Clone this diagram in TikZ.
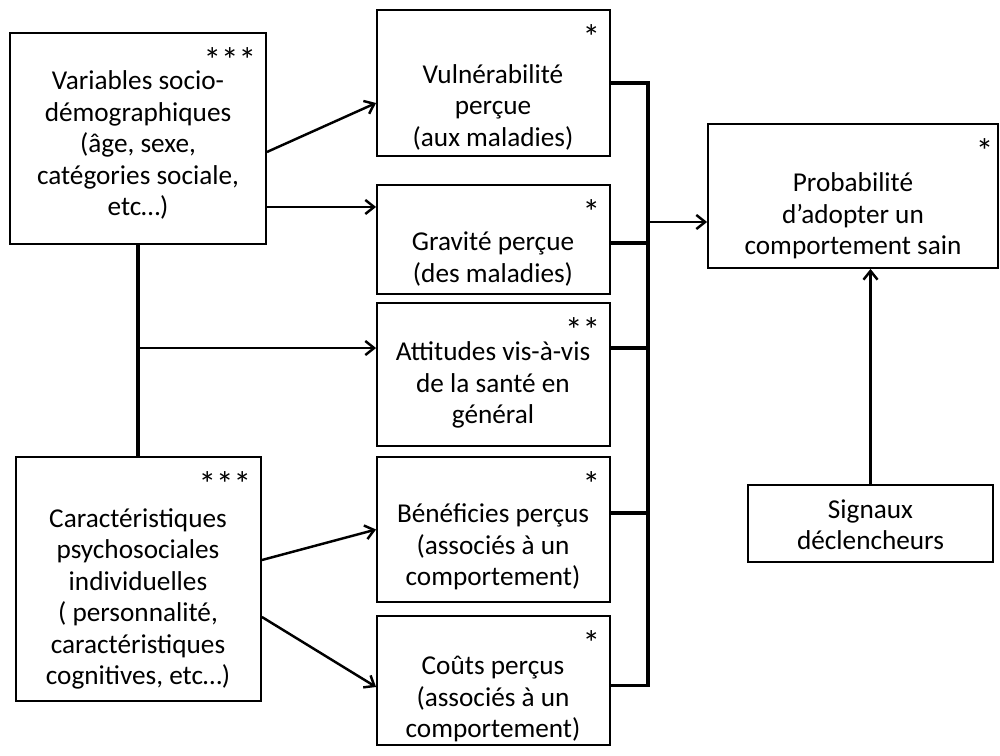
\documentclass[tikz,border=0pt]{standalone}
\usepackage{fontspec}
\setmainfont{Carlito}
\usetikzlibrary{arrows.meta, positioning, calc}

\begin{document}
\begin{tikzpicture}[x=0.02cm, y=-0.02cm,
        box/.style={draw, line width=1.1pt, inner sep=0pt},
        txt/.style={align=center, font=\fontsize{15.5}{17.9}\selectfont},
        stars/.style={anchor=north east, inner sep=0pt, font=\fontsize{20}{20}\selectfont},
        link/.style={line width=2pt},
        arr/.style={line width=1.4pt, -{Straight Barb[length=5pt, width=8pt]}}]
        \useasboundingbox (0,0) rectangle (1000,756);

        % left column
        \node[box, minimum width=5.12cm, minimum height=4.22cm] (var) at (138,138.5) {};
        \node[box, minimum width=4.9cm, minimum height=4.88cm] (car) at (138.5,579) {};
        \node[txt] (vartxt) at (138,145) {Variables socio-\\démographiques\\(âge, sexe,\\catégories sociale,\\etc…)};
        \node[txt] (cartxt) at (138,599) {Caractéristiques\\psychosociales\\individuelles\\( personnalité,\\caractéristiques\\cognitives, etc…)};
        \node[stars] at ([xshift=-6pt, yshift=-8.5pt]var.north east) {***};
        \node[stars] at ([xshift=-6pt, yshift=-8.5pt]car.north east) {***};

        % middle column
        \node[box, minimum width=4.66cm, minimum height=2.92cm] (vul) at (493.5,83) {};
        \node[box, minimum width=4.66cm, minimum height=2.18cm] (gra) at (493.5,239.5) {};
        \node[box, minimum width=4.66cm, minimum height=2.86cm] (att) at (493.5,374.5) {};
        \node[box, minimum width=4.66cm, minimum height=2.9cm] (ben) at (493.5,529.5) {};
        \node[box, minimum width=4.66cm, minimum height=2.58cm] (cou) at (493.5,680.5) {};
        \node[txt] (vultxt) at (493,107) {Vulnérabilité\\perçue\\(aux maladies)};
        \node[txt] (gratxt) at (493,259) {Gravité perçue\\(des maladies)};
        \node[txt] (atttxt) at (493,385) {Attitudes vis-à-vis\\de la santé en\\général};
        \node[txt] (bentxt) at (493,547) {Bénéficies perçus\\(associés à un\\comportement)};
        \node[txt] (coutxt) at (493,699) {Coûts perçus\\(associés à un\\comportement)};
        \node[stars] at ([xshift=-6pt, yshift=-8.5pt]vul.north east) {*};
        \node[stars] at ([xshift=-6pt, yshift=-8.5pt]gra.north east) {*};
        \node[stars] at ([xshift=-6pt, yshift=-8.5pt]att.north east) {**};
        \node[stars] at ([xshift=-6pt, yshift=-8.5pt]ben.north east) {*};
        \node[stars] at ([xshift=-6pt, yshift=-8.5pt]cou.north east) {*};

        % right column
        \node[box, minimum width=5.8cm, minimum height=2.88cm] (pro) at (853,196) {};
        \node[txt] (protxt) at (853,216) {Probabilité\\d’adopter un\\comportement sain};
        \node[stars] at ([xshift=-3pt, yshift=-8.5pt]pro.north east) {*};
        \node[box, minimum width=4.9cm, minimum height=1.54cm] (sig) at (870.5,523.5) {};
        \node[txt] (sigtxt) at (870.5,525) {Signaux\\déclencheurs};

        % left links
        \coordinate (vg) at ([yshift=-1.37cm]var.east);
        \coordinate (split) at (var.south |- att.west);
        \coordinate (sa) at ([yshift=0.53cm]split);
        \draw[arr] ([yshift=-0.27cm]var.east) -- ([yshift=-0.4cm]vul.west);
        \draw[arr] (vg) -- (vg -| gra.west);
        \draw[line width=2.2pt] (var.south) -- (var.south |- car.north);
        \draw[arr] (sa) -- (sa -| att.west);
        \draw[arr] ([yshift=0.38cm]car.east) -- (ben.west);
        \draw[arr] ([yshift=-0.76cm]car.east) -- ([yshift=-0.13cm]cou.west);

        % bus
        \coordinate (bustop) at ($(vul.east)+(37,0)$);
        \coordinate (busbot) at ($(cou.east)+(37,5)$);
        \coordinate (pin) at ([yshift=-0.52cm]pro.west);
        \draw[link] (vul.east) -- (bustop);
        \draw[link] ([yshift=-0.07cm]gra.east) -- ([yshift=-0.07cm]gra.east -| bustop);
        \draw[link] ([yshift=0.53cm]att.east) -- ([yshift=0.53cm]att.east -| bustop);
        \draw[link] ([yshift=0.33cm]ben.east) -- ([yshift=0.33cm]ben.east -| bustop);
        \draw[link] (cou.east |- busbot) -- (busbot);
        \draw[link, line cap=rect] (bustop) -- (busbot);
        \draw[arr] (pin -| bustop) -- (pin);

        \draw[arr] (sig.north) -- (sig.north |- pro.south);
\end{tikzpicture}
\end{document}
